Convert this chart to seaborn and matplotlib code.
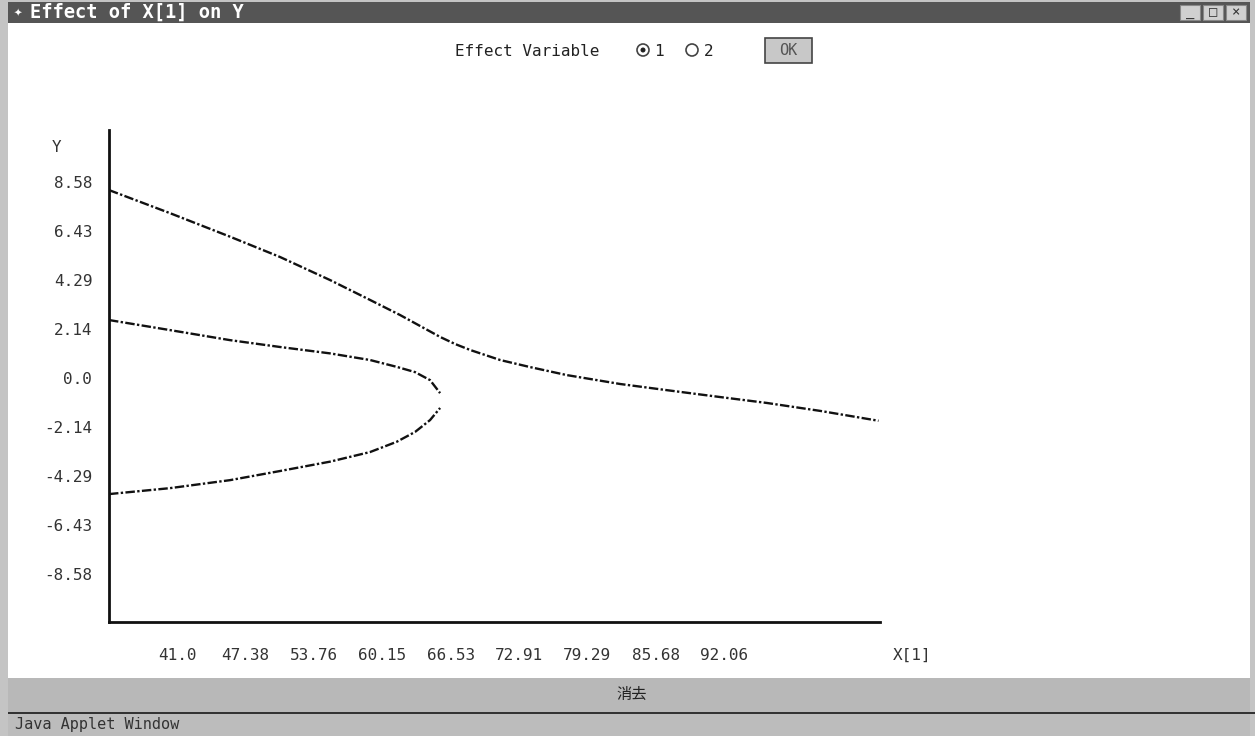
import matplotlib
matplotlib.use("Agg")
import matplotlib.pyplot as plt
import seaborn as sns
import pandas as pd
from matplotlib.patches import Rectangle, Ellipse

# upper curve (single branch across the whole range)
x_top = [34.65, 40.34, 45.94, 50.61, 55.28, 59.01, 61.81, 63.68, 65.55, 66.95,
         68.35, 71.15, 73.95, 77.37, 82.35, 86.71, 91.66, 96.04, 101.05, 106.46]
y_top = [8.23, 7.22, 6.19, 5.30, 4.29, 3.42, 2.76, 2.28, 1.80, 1.49,
         1.23, 0.79, 0.48, 0.13, -0.26, -0.53, -0.83, -1.09, -1.44, -1.87]
# the two branches that stop near x=65.5
x_branch = [34.65, 40.34, 45.94, 50.61, 55.28, 59.01, 61.50, 63.21, 64.61, 65.55]
y_mid = [2.54, 2.10, 1.66, 1.36, 1.08, 0.79, 0.49, 0.26, -0.09, -0.66]
y_low = [-5.08, -4.82, -4.47, -4.07, -3.66, -3.24, -2.79, -2.36, -1.84, -1.31]

xticks = [41.0, 47.38, 53.76, 60.15, 66.53, 72.91, 79.29, 85.68, 92.06]
xtick_labels = ['41.0', '47.38', '53.76', '60.15', '66.53', '72.91', '79.29', '85.68', '92.06']
yticks = [8.58, 6.43, 4.29, 2.14, 0.0, -2.14, -4.29, -6.43, -8.58]
ytick_labels = ['8.58', '6.43', '4.29', '2.14', '0.0', '-2.14', '-4.29', '-6.43', '-8.58']

W, H = 1255, 736
def fx(px):
    return px / W
def fy(py):
    return 1 - py / H

def box(fig, x0, y0, x1, y1, color, **kw):
    fig.add_artist(Rectangle((fx(x0), fy(y1)), fx(x1) - fx(x0), fy(y0) - fy(y1),
                             transform=fig.transFigure, facecolor=color, **kw))

def radio(fig, cx, cy, r, **kw):
    fig.add_artist(Ellipse((fx(cx), fy(cy)), 2 * r / W, 2 * r / H,
                           transform=fig.transFigure, **kw))

sns.set_style("white")
plt.rcParams['font.family'] = ['DejaVu Sans Mono', 'Noto Sans CJK JP']

fig = plt.figure(figsize=(12.55, 7.36), dpi=100)

# window frame
box(fig, 0, 0, 8, 736, '#c4c4c4', edgecolor='none')
box(fig, 1250, 0, 1255, 736, '#c4c4c4', edgecolor='none')
box(fig, 0, 0, 1255, 2, '#c4c4c4', edgecolor='none')
box(fig, 8, 2, 1250, 23, '#555555', edgecolor='none')
fig.text(fx(14), fy(12.5), '\u2726', color='white', fontsize=10, va='center')
fig.text(fx(30), fy(12.5), 'Effect of X[1] on Y', color='white', fontsize=13.5,
         fontweight='bold', va='center')
for bx, sym in zip([1180, 1203, 1226], ['_', '\u25a1', '\u00d7']):
    box(fig, bx, 5, bx + 20, 20, '#d0d0d0', edgecolor='#888888', lw=0.8)
    fig.text(fx(bx + 10), fy(12.5), sym, color='#333333', fontsize=10, ha='center', va='center')

# controls row
fig.text(fx(455), fy(51), 'Effect Variable', color='#222222', fontsize=11.5, va='center')
radio(fig, 643, 50, 6, facecolor='white', edgecolor='#444444', lw=1.2)
radio(fig, 643, 50, 2.5, facecolor='#222222', edgecolor='none')
fig.text(fx(654), fy(51), '1', color='#222222', fontsize=11.5, va='center')
radio(fig, 692, 50, 6, facecolor='white', edgecolor='#444444', lw=1.2)
fig.text(fx(704), fy(51), '2', color='#222222', fontsize=11.5, va='center')
box(fig, 765, 38, 812, 63, '#c8c8c8', edgecolor='#444444', lw=1.2)
fig.text(fx(788.5), fy(50.5), 'OK', color='#555555', fontsize=11, ha='center', va='center')

# bottom button band and status bar
box(fig, 8, 678, 1250, 712, '#b8b8b8', edgecolor='none')
fig.text(fx(632), fy(694), '消去', color='#222222', fontsize=11, ha='center', va='center')
box(fig, 8, 712, 1255, 714, '#333333', edgecolor='none')
box(fig, 8, 714, 1250, 736, '#bcbcbc', edgecolor='none')
fig.text(fx(15), fy(725), 'Java Applet Window', color='#333333', fontsize=11, va='center')

# plot area
ax = fig.add_axes([fx(109), fy(622), fx(880) - fx(109), fy(130) - fy(622)])
df = pd.concat([
    pd.DataFrame({'x': x_top, 'y': y_top, 'curve': 'top'}),
    pd.DataFrame({'x': x_branch, 'y': y_mid, 'curve': 'mid'}),
    pd.DataFrame({'x': x_branch, 'y': y_low, 'curve': 'low'}),
])
sns.lineplot(data=df, x='x', y='y', units='curve', estimator=None, color='#111111',
             lw=1.7, linestyle=(0, (4, 1, 1, 1)), ax=ax)

ax.set_xlim(34.65, 106.6)
ax.set_ylim(-10.68, 10.86)
ax.set_xticks(xticks)
ax.set_xticklabels(xtick_labels)
ax.set_yticks(yticks)
ax.set_yticklabels(ytick_labels)
ax.tick_params(axis='both', length=0, labelsize=11.5, labelcolor='#333333')
ax.tick_params(axis='x', pad=19)
ax.tick_params(axis='y', pad=12)
ax.set_xlabel('')
ax.set_ylabel('')
sns.despine(ax=ax)
for side in ['left', 'bottom']:
    ax.spines[side].set_color('#111111')
    ax.spines[side].set_linewidth(2)
ax.patch.set_alpha(0)

fig.text(fx(57), fy(148), 'Y', color='#333333', fontsize=11.5, va='center', ha='center')
fig.text(fx(893), fy(655), 'X[1]', color='#333333', fontsize=11.5, va='center')

fig.savefig('out.png', dpi=100, facecolor='white')
